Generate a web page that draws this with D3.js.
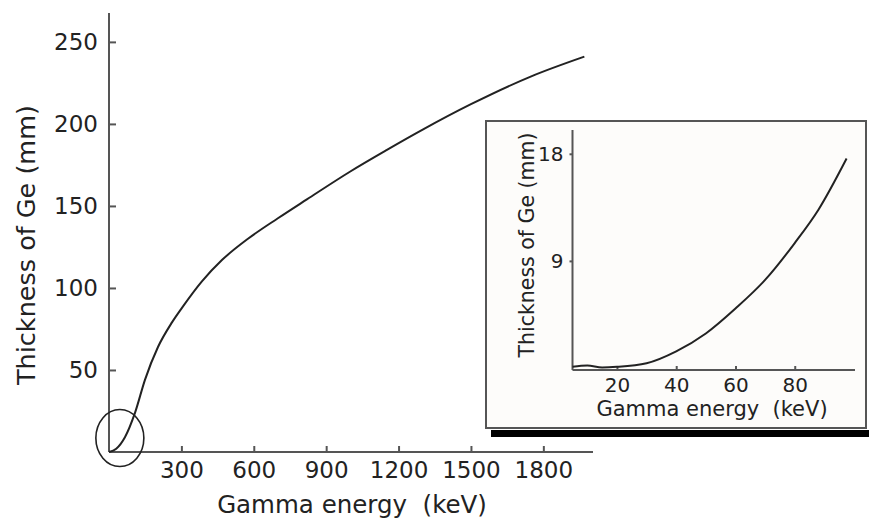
<!DOCTYPE html>
<html>
<head>
<meta charset="utf-8">
<script src="https://cdn.jsdelivr.net/npm/d3@7"></script>
<style>
  body { margin: 0; background: #fff; }
  svg { display: block; }
  text { font-family: "DejaVu Sans", sans-serif; fill: #222; white-space: pre; }
  .axis path, .axis line { stroke: #555; stroke-width: 2; }
</style>
</head>
<body>
<div id="chart"></div>
<script>
// main curve: thickness of Ge vs gamma energy (keV)
const mainEnergy = [0, 30, 66, 108, 149, 203, 261, 303, 385, 468, 576, 700, 820, 1000, 1150, 1300, 1500, 1750, 1970];
const mainThick = [0, 2, 9, 24, 44, 64, 79, 88, 104, 117, 130, 142.5, 154, 171, 184, 196.5, 212, 229, 241];
const mainXTicks = [300, 600, 900, 1200, 1500, 1800];
const mainYTicks = [50, 100, 150, 200, 250];

// inset: low energy zoom
const insetEnergy = [5, 10, 15, 20, 30, 40, 50, 60, 70, 80, 88, 97.5];
const insetThick = [0.1, 0.2, 0.05, 0.1, 0.4, 1.4, 2.9, 5.0, 7.4, 10.5, 13.3, 17.6];
const insetXTicks = [20, 40, 60, 80];
const insetYTicks = [9, 18];

const width = 869, height = 521;
const svg = d3.select('#chart').append('svg')
  .attr('width', width)
  .attr('height', height);

const fmt = d3.format('d');

// ---------------- MAIN CHART ----------------
const x = d3.scaleLinear().domain([0, 2000]).range([109, 591.6]);
const y = d3.scaleLinear().domain([0, 267]).range([452, 14]);

svg.append('g')
  .attr('class', 'axis')
  .attr('transform', `translate(0,${y(0)})`)
  .call(d3.axisBottom(x).tickValues(mainXTicks).tickFormat(fmt).tickSize(-6).tickSizeOuter(0).tickPadding(10))
  .call(g => g.select('.domain').attr('d', `M${x(0)},0H593`))
  .call(g => g.selectAll('text').attr('font-size', 23).attr('font-family', null));

svg.append('g')
  .attr('class', 'axis')
  .attr('transform', `translate(${x(0)},0)`)
  .call(d3.axisLeft(y).tickValues(mainYTicks).tickFormat(fmt).tickSize(-7).tickSizeOuter(0).tickPadding(11))
  .call(g => g.select('.domain').attr('d', `M0,${y(0)}V13`))
  .call(g => g.selectAll('text').attr('font-size', 23).attr('font-family', null));

const mainLine = d3.line()
  .x(d => x(d[0]))
  .y(d => y(d[1]))
  .curve(d3.curveMonotoneX);

svg.append('path')
  .datum(d3.zip(mainEnergy, mainThick))
  .attr('d', mainLine)
  .attr('fill', 'none')
  .attr('stroke', '#222')
  .attr('stroke-width', 2);

// circle round the low energy part
svg.append('ellipse')
  .attr('cx', x(45)).attr('cy', y(8.5))
  .attr('rx', 24).attr('ry', 28.5)
  .attr('fill', 'none')
  .attr('stroke', '#222')
  .attr('stroke-width', 1.6);

svg.append('text')
  .attr('x', 352).attr('y', 513)
  .attr('text-anchor', 'middle')
  .attr('font-size', 24.5)
  .text('Gamma energy  (keV)');

svg.append('text')
  .attr('transform', 'translate(35,245) rotate(-90)')
  .attr('text-anchor', 'middle')
  .attr('font-size', 25.5)
  .text('Thickness of Ge (mm)');

// ---------------- INSET ----------------
svg.append('rect')
  .attr('x', 491).attr('y', 430)
  .attr('width', 378).attr('height', 7)
  .attr('fill', '#000');

svg.append('rect')
  .attr('x', 486).attr('y', 121)
  .attr('width', 380).attr('height', 307)
  .attr('fill', '#fdfcfa')
  .attr('stroke', '#555')
  .attr('stroke-width', 2);

const ix = d3.scaleLinear().domain([5, 100]).range([572.5, 854]);
const iy = d3.scaleLinear().domain([0, 20]).range([368, 130]);

svg.append('g')
  .attr('class', 'axis')
  .attr('transform', `translate(0,370)`)
  .call(d3.axisBottom(ix).tickValues(insetXTicks).tickSize(-4).tickSizeOuter(0).tickPadding(8))
  .call(g => g.select('.domain').attr('d', `M${ix(5)},0H855`))
  .call(g => g.selectAll('text').attr('font-size', 20).attr('font-family', null));

svg.append('g')
  .attr('class', 'axis')
  .attr('transform', `translate(${ix(5)},0)`)
  .call(d3.axisLeft(iy).tickValues(insetYTicks).tickSize(3).tickSizeOuter(0).tickPadding(6))
  .call(g => g.select('.domain').attr('d', `M0,370V130`))
  .call(g => g.selectAll('text').attr('font-size', 20).attr('font-family', null));

const insetLine = d3.line()
  .x(d => ix(d[0]))
  .y(d => iy(d[1]))
  .curve(d3.curveMonotoneX);

svg.append('path')
  .datum(d3.zip(insetEnergy, insetThick))
  .attr('d', insetLine)
  .attr('fill', 'none')
  .attr('stroke', '#222')
  .attr('stroke-width', 2);

svg.append('text')
  .attr('x', 712).attr('y', 416)
  .attr('text-anchor', 'middle')
  .attr('font-size', 21)
  .text('Gamma energy  (keV)');

svg.append('text')
  .attr('transform', 'translate(534,245) rotate(-90)')
  .attr('text-anchor', 'middle')
  .attr('font-size', 20.5)
  .text('Thickness of Ge (mm)');
</script>
</body>
</html>
